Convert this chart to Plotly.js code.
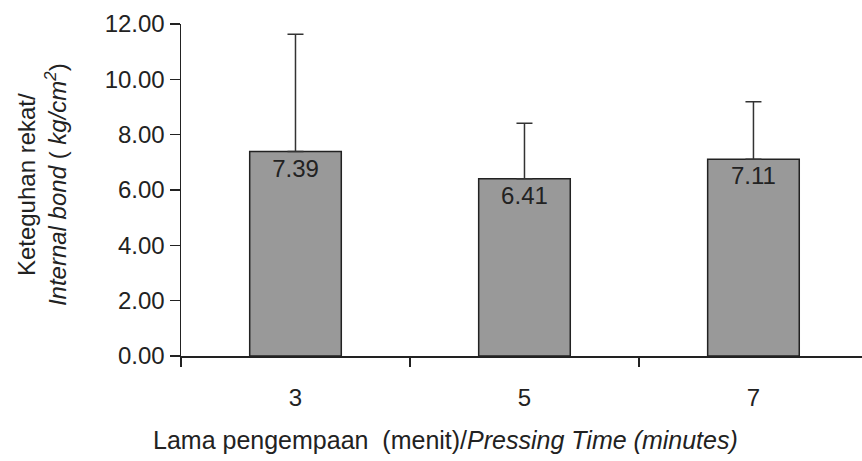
<!DOCTYPE html>
<html>
<head>
<meta charset="utf-8">
<script src="https://cdn.plot.ly/plotly-3.0.1.min.js"></script>
<style>html,body{margin:0;padding:0;background:#fff;}#chart{width:862px;height:461px;}</style>
</head>
<body>
<div id="chart"></div>
<script>
const categories = ['3', '5', '7'];
const meanValues = [7.39, 6.41, 7.11];
const errorPlus = [4.24, 2.00, 2.08];
const valueLabels = ['7.39', '6.41', '7.11'];
const yTickValues = [0, 2, 4, 6, 8, 10, 12];

const FONT = 'Liberation Sans, Arial, sans-serif';
const trace = {
  type: 'bar',
  x: categories,
  y: meanValues,
  width: 0.4,
  marker: {color: '#999999', line: {color: '#222222', width: 1.5}},
  error_y: {type: 'data', symmetric: false, array: errorPlus, arrayminus: [0, 0, 0],
            color: '#333333', thickness: 1.5, width: 8},
  text: valueLabels,
  textposition: 'inside',
  insidetextanchor: 'end',
  textangle: 0,
  textfont: {family: FONT, size: 24, color: '#222222'},
  hoverinfo: 'skip'
};

const layout = {
  width: 862, height: 461,
  margin: {l: 181, r: 0, t: 24, b: 105},
  paper_bgcolor: '#ffffff', plot_bgcolor: '#ffffff',
  showlegend: false,
  font: {family: FONT, size: 24, color: '#222222'},
  xaxis: {
    type: 'category',
    range: [-0.5, 2.474],
    showline: true, linecolor: '#222222', linewidth: 1.5,
    ticks: 'outside', tickson: 'boundaries', ticklen: 9, tickwidth: 1.5, tickcolor: '#222222',
    ticklabelstandoff: 20,
    showgrid: false, zeroline: false,
    tickfont: {family: FONT, size: 24, color: '#222222'}
  },
  yaxis: {
    range: [0, 12],
    tickvals: yTickValues,
    tickformat: '.2f',
    showline: true, linecolor: '#222222', linewidth: 1.5,
    ticks: 'outside', ticklen: 10, tickwidth: 1.5, tickcolor: '#222222',
    showgrid: false, zeroline: false,
    tickfont: {family: FONT, size: 24, color: '#222222'}
  },
  annotations: [
    {
      xref: 'paper', yref: 'paper', x: -0.204, y: 0.515,
      xanchor: 'center', yanchor: 'middle', textangle: -90, showarrow: false,
      font: {family: FONT, size: 24, color: '#222222'},
      text: 'Keteguhan rekat/<br><i>Internal bond</i> ( <i>kg/cm<sup>2</sup></i>)'
    },
    {
      xref: 'paper', yref: 'paper', x: 0.388, y: -0.253,
      xanchor: 'center', yanchor: 'middle', showarrow: false,
      font: {family: FONT, size: 25, color: '#222222'},
      text: 'Lama pengempaan  (menit)/<i>Pressing Time (minutes)</i>'
    }
  ]
};

Plotly.newPlot('chart', [trace], layout, {staticPlot: true, displayModeBar: false});
</script>
</body>
</html>
